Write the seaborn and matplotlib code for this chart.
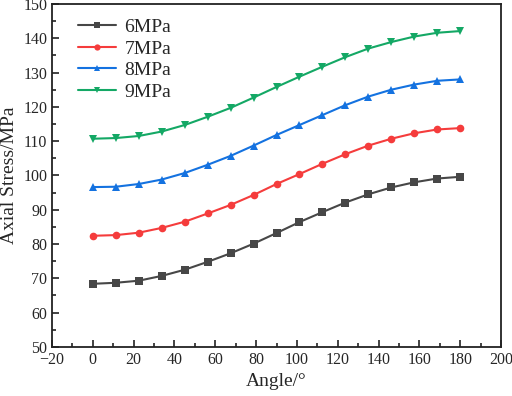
import matplotlib
matplotlib.use("Agg")
import matplotlib.pyplot as plt
import seaborn as sns
import pandas as pd
from matplotlib.ticker import MultipleLocator

# angles (deg)
angles = [0, 11.25, 22.5, 33.75, 45, 56.25, 67.5, 78.75, 90,
          101.25, 112.5, 123.75, 135, 146.25, 157.5, 168.75, 180]

s6 = [68.4, 68.7, 69.3, 70.7, 72.5, 74.8, 77.3, 80.1, 83.2,
      86.4, 89.3, 92.1, 94.5, 96.5, 98.0, 99.1, 99.6]
s7 = [82.4, 82.6, 83.3, 84.7, 86.5, 88.9, 91.4, 94.3, 97.5,
      100.4, 103.4, 106.2, 108.7, 110.7, 112.3, 113.4, 113.8]
s8 = [96.6, 96.7, 97.5, 98.8, 100.7, 103.1, 105.7, 108.7, 111.8,
      114.7, 117.6, 120.5, 123.0, 125.0, 126.5, 127.6, 128.0]
s9 = [110.7, 110.9, 111.5, 112.8, 114.7, 117.1, 119.7, 122.7, 125.8,
      128.8, 131.7, 134.5, 137.0, 138.9, 140.5, 141.6, 142.1]

labels = ["6MPa", "7MPa", "8MPa", "9MPa"]
colors = ["#474747", "#f53c3c", "#1472e0", "#14a865"]
markers = ["s", "o", "^", "v"]

df = pd.concat([pd.DataFrame({"Angle": angles, "Stress": s, "Pressure": lab})
                for s, lab in zip([s6, s7, s8, s9], labels)])

sns.set_style("ticks")
plt.rcParams["font.family"] = ["Liberation Serif", "DejaVu Serif"]

fig = plt.figure(figsize=(5.12, 3.96), dpi=100)
ax = fig.add_axes([0.1016, 0.124, 0.877, 0.866])

sns.lineplot(data=df, x="Angle", y="Stress", hue="Pressure", style="Pressure",
             palette=colors, markers=markers, dashes=False, markersize=5.5,
             markeredgewidth=0, linewidth=1.5, ax=ax)

ax.set_xlim(-20, 200)
ax.set_ylim(50, 150)
ax.xaxis.set_major_locator(MultipleLocator(20))
ax.xaxis.set_minor_locator(MultipleLocator(10))
ax.yaxis.set_major_locator(MultipleLocator(10))
ax.yaxis.set_minor_locator(MultipleLocator(5))
ax.tick_params(which="both", direction="in", labelsize=11.5, width=1.2, color="#222222")
ax.tick_params(which="major", length=5)
ax.tick_params(which="minor", length=3)
for sp in ax.spines.values():
    sp.set_linewidth(1.3)
    sp.set_color("#222222")

ax.set_xlabel("Angle/°", fontsize=14)
ax.set_ylabel("Axial Stress/MPa", fontsize=14)

leg = ax.legend(loc="upper left", frameon=False, fontsize=14, labelspacing=0.2,
                handlelength=1.95, handletextpad=0.45, borderaxespad=0,
                bbox_to_anchor=(0.04, 0.98))
for h in leg.legend_handles:
    h.set_markersize(4.5)

fig.savefig("out.png", dpi=100)
